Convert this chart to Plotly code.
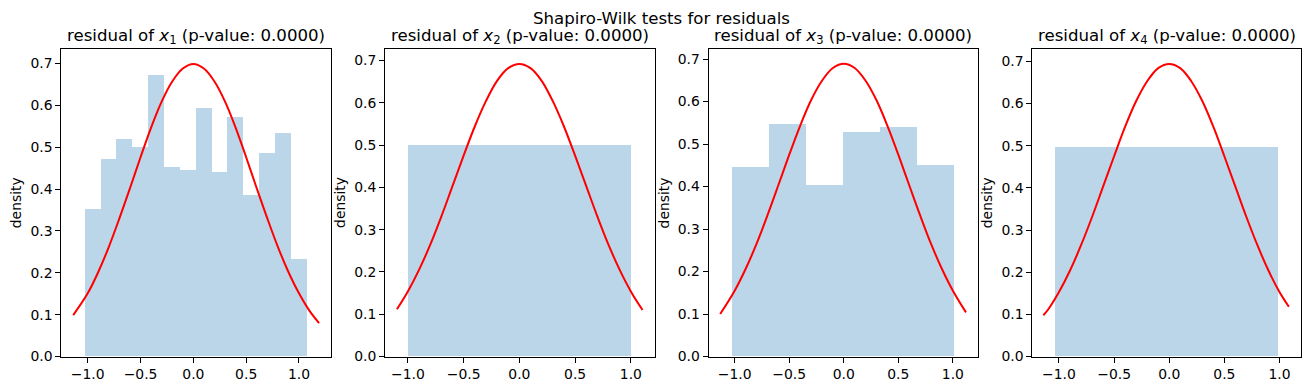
import plotly.graph_objects as go

W, H = 1311, 391
VS = 399.0 / 391.0  # the photographed page comes out ~8px taller and is squeezed back; pre-stretch vertically

# ---- data ----
titles = ["residual of <i>x</i><sub>1</sub> (p-value: 0.0000)",
          "residual of <i>x</i><sub>2</sub> (p-value: 0.0000)",
          "residual of <i>x</i><sub>3</sub> (p-value: 0.0000)",
          "residual of <i>x</i><sub>4</sub> (p-value: 0.0000)"]
suptitle = "Shapiro-Wilk tests for residuals"

edges1 = [-1.026, -0.876, -0.726, -0.575, -0.425, -0.275, -0.125, 0.025,
          0.176, 0.326, 0.476, 0.626, 0.777, 0.927, 1.077]
dens1 = [0.353, 0.472, 0.520, 0.501, 0.673, 0.453, 0.446, 0.594,
         0.439, 0.572, 0.386, 0.486, 0.534, 0.233]
edges2 = [-0.997, 0.997]
dens2 = [0.500]
edges3 = [-1.025, -0.686, -0.347, -0.008, 0.331, 0.670, 1.009]
dens3 = [0.446, 0.547, 0.402, 0.528, 0.539, 0.451]
edges4 = [-1.036, 0.986]
dens4 = [0.497]

curve1_x = [-1.137, -1.0, -0.9, -0.8, -0.7, -0.6, -0.5, -0.4, -0.3, -0.2, -0.1, 0.0,
            0.1, 0.2, 0.3, 0.4, 0.5, 0.6, 0.7, 0.8, 0.9, 1.0, 1.1, 1.19]
curve1_y = [0.099, 0.151, 0.202, 0.262, 0.330, 0.402, 0.476, 0.547, 0.609, 0.657, 0.688, 0.699,
            0.688, 0.657, 0.609, 0.547, 0.476, 0.402, 0.330, 0.262, 0.202, 0.151, 0.109, 0.080]
curve2_x = [-1.098, -1.0, -0.9, -0.8, -0.7, -0.6, -0.5, -0.4, -0.3, -0.2, -0.1, 0.0,
            0.1, 0.2, 0.3, 0.4, 0.5, 0.6, 0.7, 0.8, 0.9, 1.0, 1.105]
curve2_y = [0.112, 0.154, 0.205, 0.264, 0.331, 0.403, 0.475, 0.544, 0.604, 0.652, 0.682, 0.692,
            0.682, 0.652, 0.604, 0.544, 0.475, 0.403, 0.331, 0.264, 0.205, 0.154, 0.110]
curve3_x = [-1.133, -1.0, -0.9, -0.8, -0.7, -0.6, -0.5, -0.4, -0.3, -0.2, -0.1, 0.0,
            0.1, 0.2, 0.3, 0.4, 0.5, 0.6, 0.7, 0.8, 0.9, 1.0, 1.12]
curve3_y = [0.100, 0.155, 0.206, 0.265, 0.332, 0.403, 0.475, 0.543, 0.603, 0.649, 0.679, 0.689,
            0.679, 0.649, 0.603, 0.543, 0.475, 0.403, 0.332, 0.265, 0.206, 0.155, 0.104]
curve4_x = [-1.142, -1.1, -1.0, -0.9, -0.8, -0.7, -0.6, -0.5, -0.4, -0.3, -0.2, -0.1, 0.0,
            0.1, 0.2, 0.3, 0.4, 0.5, 0.6, 0.7, 0.8, 0.9, 1.0, 1.085]
curve4_y = [0.098, 0.111, 0.153, 0.204, 0.264, 0.331, 0.403, 0.475, 0.545, 0.606, 0.653, 0.684, 0.694,
            0.684, 0.653, 0.606, 0.545, 0.475, 0.403, 0.331, 0.264, 0.204, 0.153, 0.118]

x_ticks = [-1.0, -0.5, 0.0, 0.5, 1.0]
x_tick_labels = ["\u22121.0", "\u22120.5", "0.0", "0.5", "1.0"]
y_ticks = [0.0, 0.1, 0.2, 0.3, 0.4, 0.5, 0.6, 0.7]
y_tick_labels = ["0.0", "0.1", "0.2", "0.3", "0.4", "0.5", "0.6", "0.7"]
y_label = "density"

# ---- layout geometry (pixels, as seen in the reference) ----
ax_px = [(61.3, 331.0), (385.0, 654.5), (708.5, 978.3), (1032.3, 1301.2)]
x_ranges = [(-1.250, 1.303), (-1.205, 1.212), (-1.240, 1.233), (-1.242, 1.197)]
y_tops = [0.734, 0.7266, 0.723, 0.7287]
top_px, bot_px = 49.3 * VS, 356.7 * VS

FONT = "DejaVu Sans"
FS = 13.9
FT = 16.6

edges_all = [edges1, edges2, edges3, edges4]
dens_all = [dens1, dens2, dens3, dens4]
curves = [(curve1_x, curve1_y), (curve2_x, curve2_y), (curve3_x, curve3_y), (curve4_x, curve4_y)]

fig = go.Figure()
annotations = []
for i in range(4):
    sfx = "" if i == 0 else str(i + 1)
    e = edges_all[i]
    centers = [(e[k] + e[k + 1]) / 2 for k in range(len(e) - 1)]
    widths = [e[k + 1] - e[k] for k in range(len(e) - 1)]
    fig.add_trace(go.Bar(x=centers, y=dens_all[i], width=widths,
                         marker=dict(color="rgba(31,119,180,0.3)", line=dict(width=0)),
                         xaxis="x" + sfx, yaxis="y" + sfx, showlegend=False, hoverinfo="skip"))
    cx, cy = curves[i]
    fig.add_trace(go.Scatter(x=cx, y=cy, mode="lines",
                             line=dict(color="red", width=2, shape="spline", smoothing=1.0),
                             xaxis="x" + sfx, yaxis="y" + sfx, showlegend=False))
    l, r = ax_px[i]
    axis_common = dict(showline=True, linecolor="black", linewidth=1, mirror=True,
                       ticks="outside", ticklen=5, tickwidth=1, tickcolor="black",
                       showgrid=False, zeroline=False,
                       tickfont=dict(family=FONT, size=FS, color="black"))
    fig.update_layout(**{
        "xaxis" + sfx: dict(domain=[l / W, r / W], range=list(x_ranges[i]),
                            anchor="y" + sfx, tickvals=x_ticks, ticktext=x_tick_labels,
                            **axis_common),
        "yaxis" + sfx: dict(domain=[1 - bot_px / H, 1 - top_px / H], range=[0, y_tops[i]],
                            anchor="x" + sfx, tickvals=y_ticks, ticktext=y_tick_labels,
                            **axis_common),
    })
    annotations.append(dict(text=titles[i], x=(l + r) / 2 / W, y=1 - 37 * VS / H,
                            xref="paper", yref="paper", xanchor="center", yanchor="middle",
                            showarrow=False, font=dict(family=FONT, size=FT, color="black")))
    annotations.append(dict(text=y_label, x=(l - 45) / W, y=1 - (top_px + bot_px) / 2 / H,
                            xref="paper", yref="paper", xanchor="center", yanchor="middle",
                            textangle=-90, showarrow=False,
                            font=dict(family=FONT, size=FS, color="black")))

annotations.append(dict(text=suptitle, x=661.5 / W, y=1 - 18.5 * VS / H, xref="paper", yref="paper",
                        xanchor="center", yanchor="middle", showarrow=False,
                        font=dict(family=FONT, size=FT, color="black")))

fig.update_layout(width=W, height=H, margin=dict(l=0, r=0, t=0, b=0),
                  paper_bgcolor="white", plot_bgcolor="white", bargap=0,
                  annotations=annotations, font=dict(family=FONT, size=FS))

post = ("document.body.style.margin='0';"
        "document.body.style.overflow='hidden';"
        "document.documentElement.style.overflow='hidden';")

fig.write_html("out.html", config={"displayModeBar": False}, post_script=post)
